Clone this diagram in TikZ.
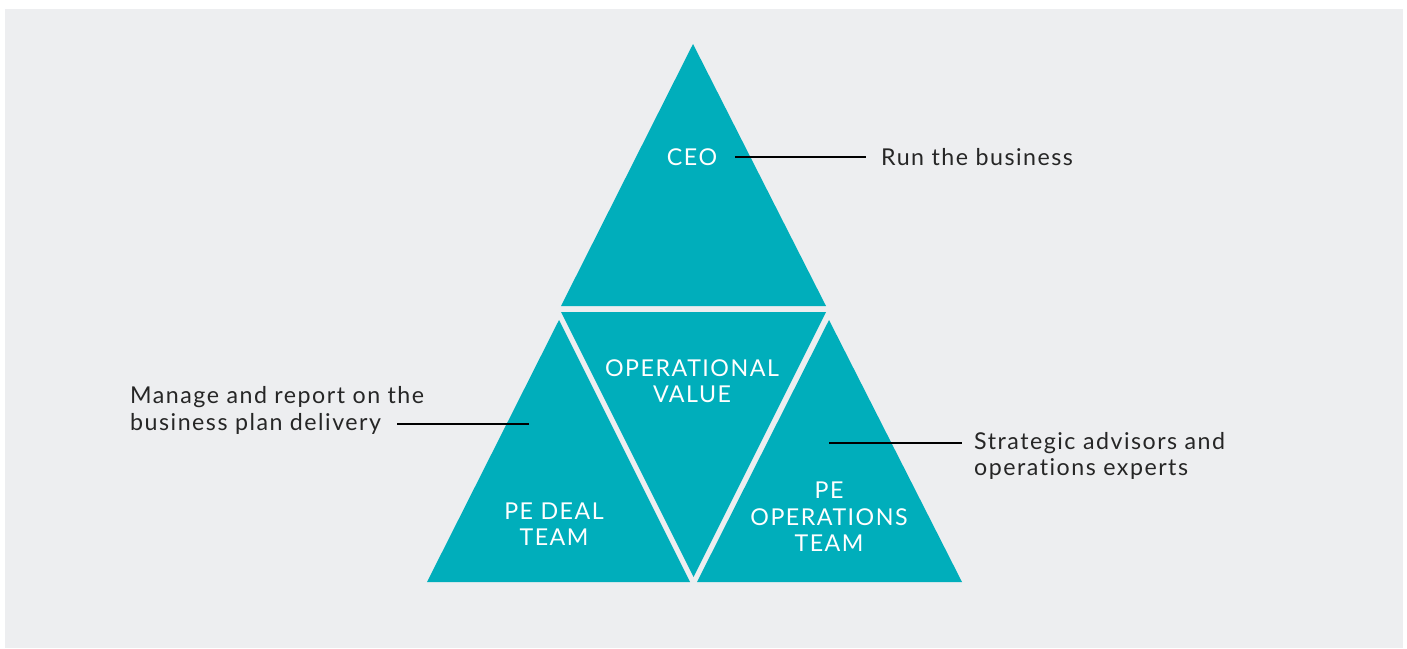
\documentclass[tikz,border=0pt]{standalone}
\usepackage{fontspec}
\setmainfont{Lato}[LetterSpace=6.5,Ligatures=NoCommon]
\definecolor{teal}{HTML}{00AEBB}
\definecolor{bggray}{HTML}{EDEEF0}
\begin{document}
\begin{tikzpicture}[x=1pt,y=-1pt,
  tri/.style={fill=teal,draw=none},
  intext/.style={text=white,font=\fontsize{23.2}{26.5}\selectfont,align=center,inner sep=0pt},
  outtext/.style={text=black!85,font=\fontsize{23.2}{26.5}\selectfont,align=left,inner sep=0pt},
  conn/.style={draw=black,line width=2.2pt}]
\useasboundingbox (0,0) rectangle (1407,648);
\fill[white] (0,0) rectangle (1407,648);
\fill[bggray] (5,9) rectangle (1403,648);
% triangles
\fill[tri] (693,44) -- (561,306) -- (826,306) -- cycle;
\fill[tri] (561,312) -- (826,312) -- (693.5,577) -- cycle;
\fill[tri] (559,320) -- (427,582) -- (690,582) -- cycle;
\fill[tri] (829,320) -- (697,582) -- (962,582) -- cycle;
% inner labels
\node[intext] (ceo) at (692,157) {CEO};
\node[intext] (opval) at (692,381) {OPERATIONAL\\VALUE};
\node[intext] (deal) at (554,524) {PE DEAL\\TEAM};
\node[intext] (ops) at (829,517) {PE\\OPERATIONS\\TEAM};
% outer labels
\node[outtext,anchor=west] (run) at (881,157) {Run the business};
\node[outtext,anchor=west] (manage) at (130,410.5) {Manage and report on the\\business plan delivery};
\node[outtext,anchor=west] (strat) at (974,456) {Strategic advisors and\\operations experts};
% connector ends
\coordinate (ceoend) at (735,157);
\coordinate (ceoout) at (866,157);
\coordinate (dealend) at (529,424);
\coordinate (dealout) at (397,424);
\coordinate (opsend) at (829,443);
\coordinate (opsout) at (962,443);
\draw[conn] (ceoend) -- (ceoout);
\draw[conn] (dealend) -- (dealout);
\draw[conn] (opsend) -- (opsout);
\end{tikzpicture}
\end{document}
